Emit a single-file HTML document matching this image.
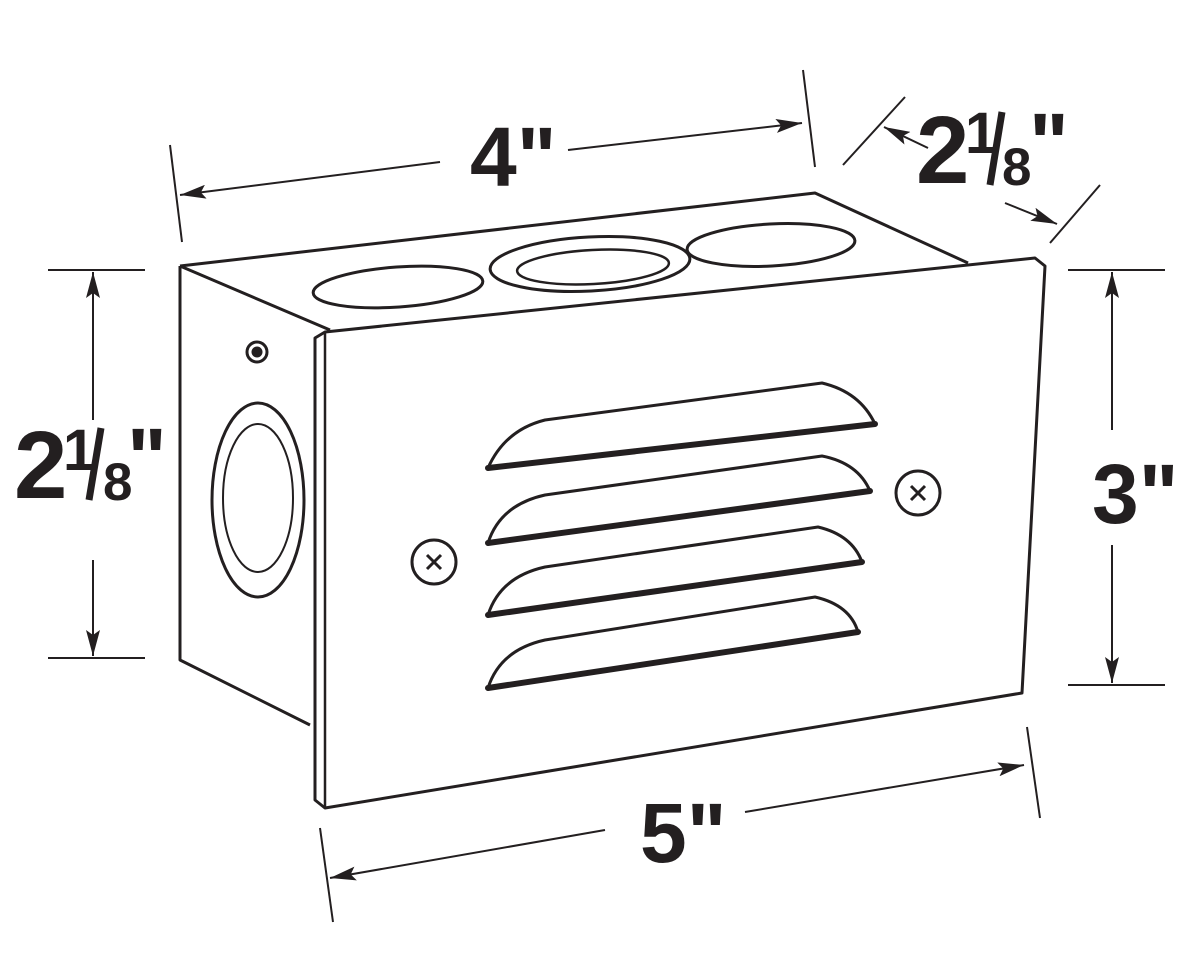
<!DOCTYPE html>
<html><head><meta charset="utf-8"><style>
html,body{margin:0;padding:0;background:#fff;}
svg{display:block;}
text{font-family:"Liberation Sans",sans-serif;font-weight:bold;fill:#231f20;}
</style></head><body>
<svg width="1200" height="978" viewBox="0 0 1200 978" xmlns="http://www.w3.org/2000/svg">
<defs>
<marker id="arb" markerWidth="26" markerHeight="14" refX="26" refY="7" orient="auto" markerUnits="userSpaceOnUse" viewBox="0 0 26 14">
<path d="M0,0 L26,7 L0,14 L5,7 z" fill="#231f20"/></marker>
</defs>
<g fill="none" stroke="#231f20" stroke-width="3" stroke-linejoin="round">
<path d="M180,266 L815,193 L968,263"/>
<path d="M180,266 L330,330"/>
<path d="M180,266 L180,660 L310,725"/>
<path d="M315,338 L325,332 L1035,258 L1045,266 L1022,693 L325,808 L315,800 Z"/>
<path d="M325,332 L325,808" stroke-width="2.5"/>
<ellipse cx="398" cy="287" rx="85" ry="20" transform="rotate(-4 398 287)"/>
<ellipse cx="590" cy="264" rx="100" ry="27" transform="rotate(-3 590 264)"/>
<ellipse cx="593" cy="267" rx="76" ry="17" transform="rotate(-3 593 267)" stroke-width="2.5"/>
<ellipse cx="771" cy="245" rx="84" ry="21" transform="rotate(-3 771 245)"/>
<ellipse cx="258" cy="500" rx="46" ry="97"/>
<ellipse cx="258" cy="498" rx="35" ry="74" stroke-width="2"/>
<circle cx="257" cy="352" r="10"/>
<circle cx="257" cy="352" r="4" fill="#231f20"/>
<circle cx="434" cy="562" r="22"/>
<path d="M427,555 L441,569 M441,555 L427,569" stroke-width="3"/>
<circle cx="918" cy="493" r="22"/>
<path d="M911,486 L925,500 M925,486 L911,500" stroke-width="3"/>
<g>
<path d="M488,468 L875,424" stroke-width="6" stroke-linecap="round"/>
<path d="M488,468 Q505,430 545,420 L822,383 Q860,392 875,424"/>
<path d="M488,543 L870,491" stroke-width="6" stroke-linecap="round"/>
<path d="M488,543 Q500,505 545,495 L822,456 Q858,463 870,491"/>
<path d="M488,615 L862,562" stroke-width="6" stroke-linecap="round"/>
<path d="M488,615 Q500,577 545,567 L818,527 Q852,535 862,562"/>
<path d="M488,688 L858,632" stroke-width="6" stroke-linecap="round"/>
<path d="M488,688 Q500,650 545,640 L815,597 Q850,605 858,632"/>
</g>
</g>
<g fill="none" stroke="#231f20" stroke-width="2">
<path d="M170,145 L182,242"/>
<path d="M803,70 L815,167"/>
<path d="M440,162 L180,195" marker-end="url(#arb)"/>
<path d="M568,150 L802,123" marker-end="url(#arb)"/>
<path d="M843,165 L905,97"/>
<path d="M1050,243 L1100,185"/>
<path d="M928,148 L884,127" marker-end="url(#arb)"/>
<path d="M1005,203 L1057,224" marker-end="url(#arb)"/>
<path d="M48,270 L145,270 M48,658 L145,658"/>
<path d="M93,420 L93,272" marker-end="url(#arb)"/>
<path d="M93,560 L93,656" marker-end="url(#arb)"/>
<path d="M1068,270 L1165,270 M1068,685 L1165,685"/>
<path d="M1112,430 L1112,272" marker-end="url(#arb)"/>
<path d="M1112,545 L1112,683" marker-end="url(#arb)"/>
<path d="M1027,727 L1040,818"/>
<path d="M320,828 L333,922"/>
<path d="M605,830 L330,878" marker-end="url(#arb)"/>
<path d="M745,812 L1024,765" marker-end="url(#arb)"/>
</g>
<text x="470" y="186" font-size="84">4"</text>
<text x="640" y="862" font-size="84">5"</text>
<text x="1092" y="523" font-size="84">3"</text>
<text x="14" y="498" font-size="96">2</text>
<text x="63" y="470" font-size="58">1</text>
<path d="M101,428 L89,500" stroke="#231f20" stroke-width="7"/>
<text x="103" y="500" font-size="53">8</text>
<text x="127" y="487" font-size="84">"</text>
<text x="916" y="183" font-size="96">2</text>
<text x="965" y="153" font-size="58">1</text>
<path d="M1002,112 L990,185" stroke="#231f20" stroke-width="7"/>
<text x="1002" y="185" font-size="53">8</text>
<text x="1029" y="172" font-size="84">"</text>
</svg>
</body></html>
